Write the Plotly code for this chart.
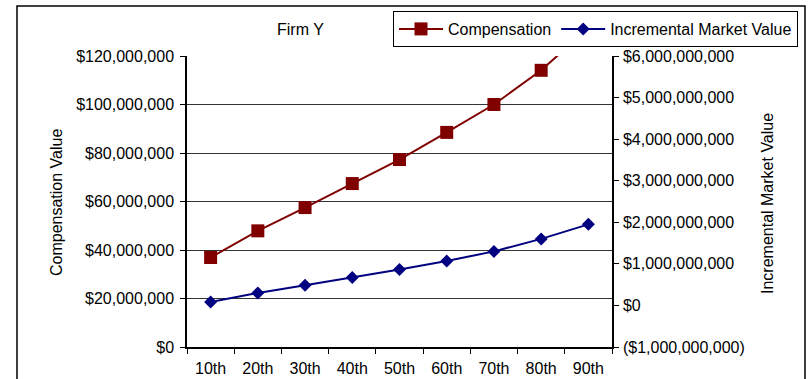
import plotly.graph_objects as go

categories = ["10th", "20th", "30th", "40th", "50th", "60th", "70th", "80th", "90th"]
compensation = [36.9e6, 47.9e6, 57.5e6, 67.4e6, 77.3e6, 88.5e6, 100.0e6, 114.1e6, 131.5e6]
market_value = [0.084e9, 0.30e9, 0.486e9, 0.67e9, 0.863e9, 1.07e9, 1.30e9, 1.60e9, 1.95e9]

left_ticks = [0, 20e6, 40e6, 60e6, 80e6, 100e6, 120e6]
right_ticks = [-1e9, 0, 1e9, 2e9, 3e9, 4e9, 5e9, 6e9]


def money(v):
    s = "${:,.0f}".format(abs(v))
    return "(" + s + ")" if v < 0 else s


FONT = "Liberation Sans, Arial, sans-serif"
RED = "#800000"
NAVY = "#000080"

fig = go.Figure()
fig.add_trace(go.Scatter(
    x=categories, y=compensation, name="Compensation", mode="lines+markers",
    line=dict(color=RED, width=2), marker=dict(symbol="square", size=13, color=RED),
    yaxis="y"))
fig.add_trace(go.Scatter(
    x=categories, y=market_value, name="Incremental Market Value", mode="lines+markers",
    line=dict(color=NAVY, width=2), marker=dict(symbol="diamond", size=10, color=NAVY),
    yaxis="y2"))

L, R, T, B = 187, 196, 56, 32
W, H = 808, 379
pw, ph = W - L - R, H - T - B


def px(x):
    return (x - L) / pw


def py(y):
    return (H - B - y) / ph


fig.update_layout(
    width=W, height=H,
    margin=dict(l=L, r=R, t=T, b=B, autoexpand=False),
    paper_bgcolor="white", plot_bgcolor="white",
    font=dict(family=FONT, size=16, color="black"),
    showlegend=True,
    legend=dict(orientation="h", x=px(393), y=py(11), xanchor="left", yanchor="top",
                bordercolor="black", borderwidth=1, bgcolor="white",
                font=dict(size=16), itemwidth=44, tracegroupgap=0),
    xaxis=dict(type="category", tickson="boundaries", ticks="outside", ticklen=5,
               tickcolor="black", showline=True, linecolor="black", linewidth=1.5,
               showgrid=False, zeroline=False, range=[-0.5, 8.5], ticklabelstandoff=6),
    yaxis=dict(range=[0, 120e6], tickvals=left_ticks, ticktext=[money(v) for v in left_ticks],
               ticks="outside", ticklen=5, tickcolor="black", showline=True,
               linecolor="black", linewidth=1.5, showgrid=True, gridcolor="#333333",
               gridwidth=1, zeroline=False, ticklabelstandoff=3),
    yaxis2=dict(range=[-1e9, 6e9], tickvals=right_ticks, ticktext=[money(v) for v in right_ticks],
                overlaying="y", side="right", ticks="outside", ticklen=5, tickcolor="black",
                showline=True, linecolor="black", linewidth=1.5, showgrid=False,
                zeroline=False, ticklabelstandoff=1),
    shapes=[dict(type="rect", xref="paper", yref="paper",
                 x0=px(17), x1=px(805), y0=py(395), y1=py(6),
                 line=dict(color="black", width=1.5), layer="below")],
    annotations=[
        dict(text="Firm Y", xref="paper", yref="paper", x=px(300.7), y=py(29),
             xanchor="center", yanchor="middle", showarrow=False, font=dict(size=16)),
        dict(text="Compensation Value", xref="paper", yref="paper", x=px(56), y=py(203),
             xanchor="center", yanchor="middle", textangle=-90, showarrow=False,
             font=dict(size=16)),
        dict(text="Incremental Market Value", xref="paper", yref="paper", x=px(767), y=py(204),
             xanchor="center", yanchor="middle", textangle=-90, showarrow=False,
             font=dict(size=16)),
    ],
)

fig.write_html("out.html")
